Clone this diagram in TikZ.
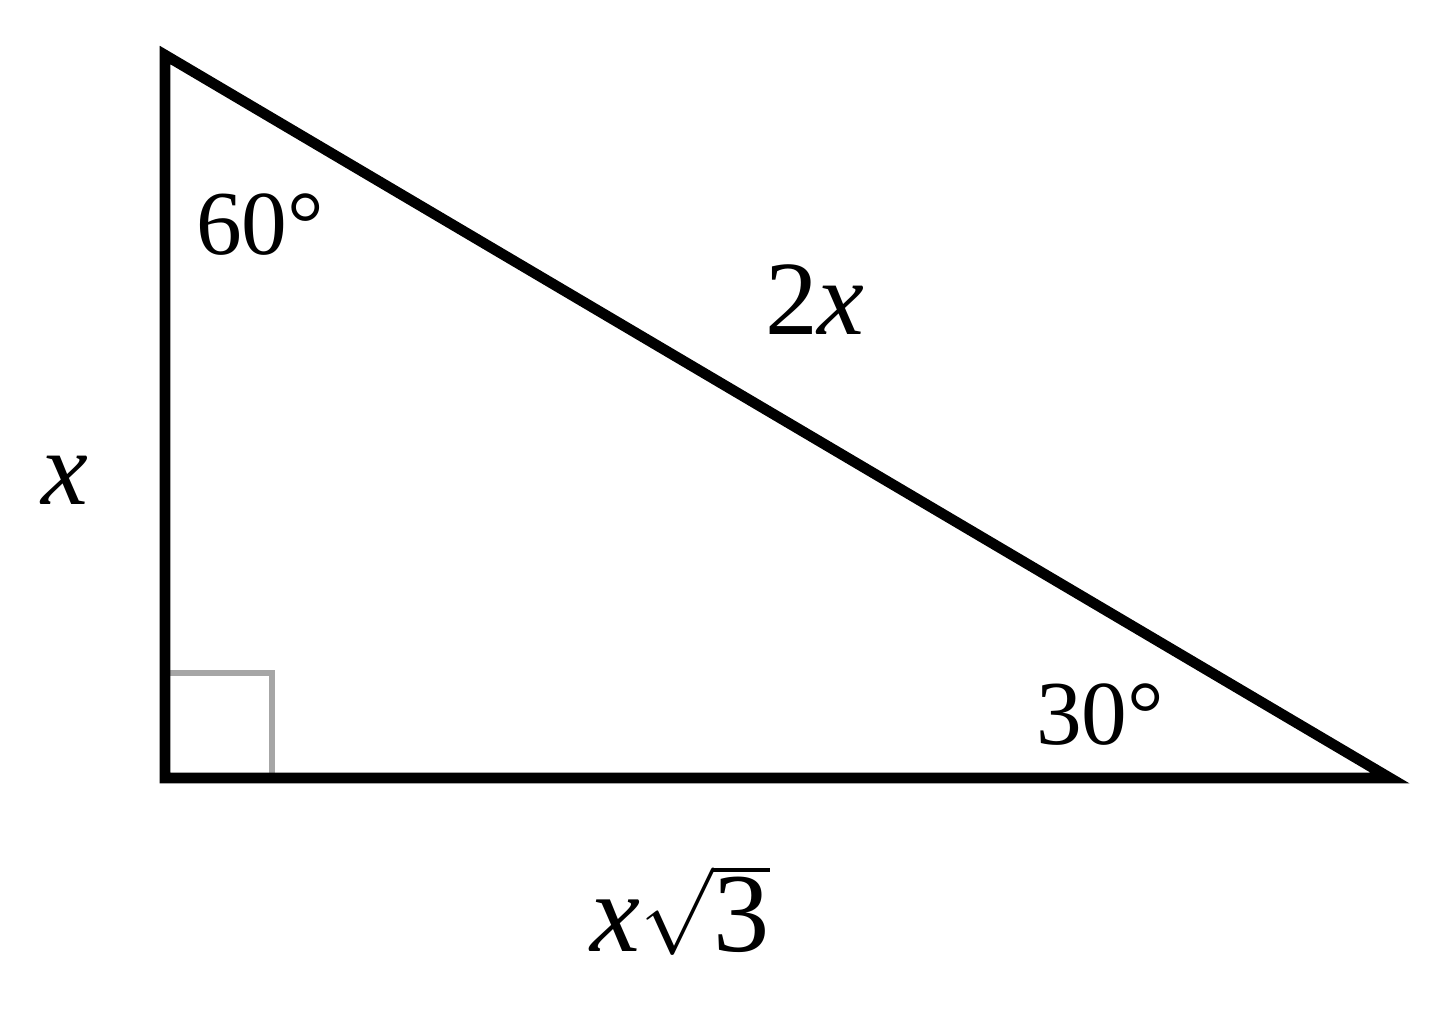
\documentclass[tikz,border=0pt]{standalone}
\usepackage{fontspec}
\setmainfont{Liberation Serif}
\usetikzlibrary{positioning}

\begin{document}
\begin{tikzpicture} [every node/.style = {font=\fontsize{26}{30}\selectfont}]
    \useasboundingbox (0,0) rectangle (14.4,10.18);
    \coordinate (A) at (1.65,9.63);
    \coordinate (B) at (1.65,2.40);
    \coordinate (C) at (13.90,2.40);
    % right angle mark
    \draw [gray!70, line width=1.8pt] (1.65,3.45) -- (2.72,3.45) -- (2.72,2.40);
    \draw [line width=3pt, line join=miter] (A) -- (B) -- (C) -- cycle;
    \node (a60) at (2.60,7.93) {60°};
    \node (a30) at (11.00,3.03) {30°};
    \node (hyp) [font=\fontsize{30}{34}\selectfont] at (8.15,7.18) {2\textit{x}};
    \node (leg) [font=\fontsize{30}{34}\selectfont] at (0.65,5.38) {\textit{x}};
    \node (base) [font=\fontsize{32}{36}\selectfont] at (6.80,1.08) {\textit{x}$\sqrt{\mbox{3}}$};
\end{tikzpicture}
\end{document}
